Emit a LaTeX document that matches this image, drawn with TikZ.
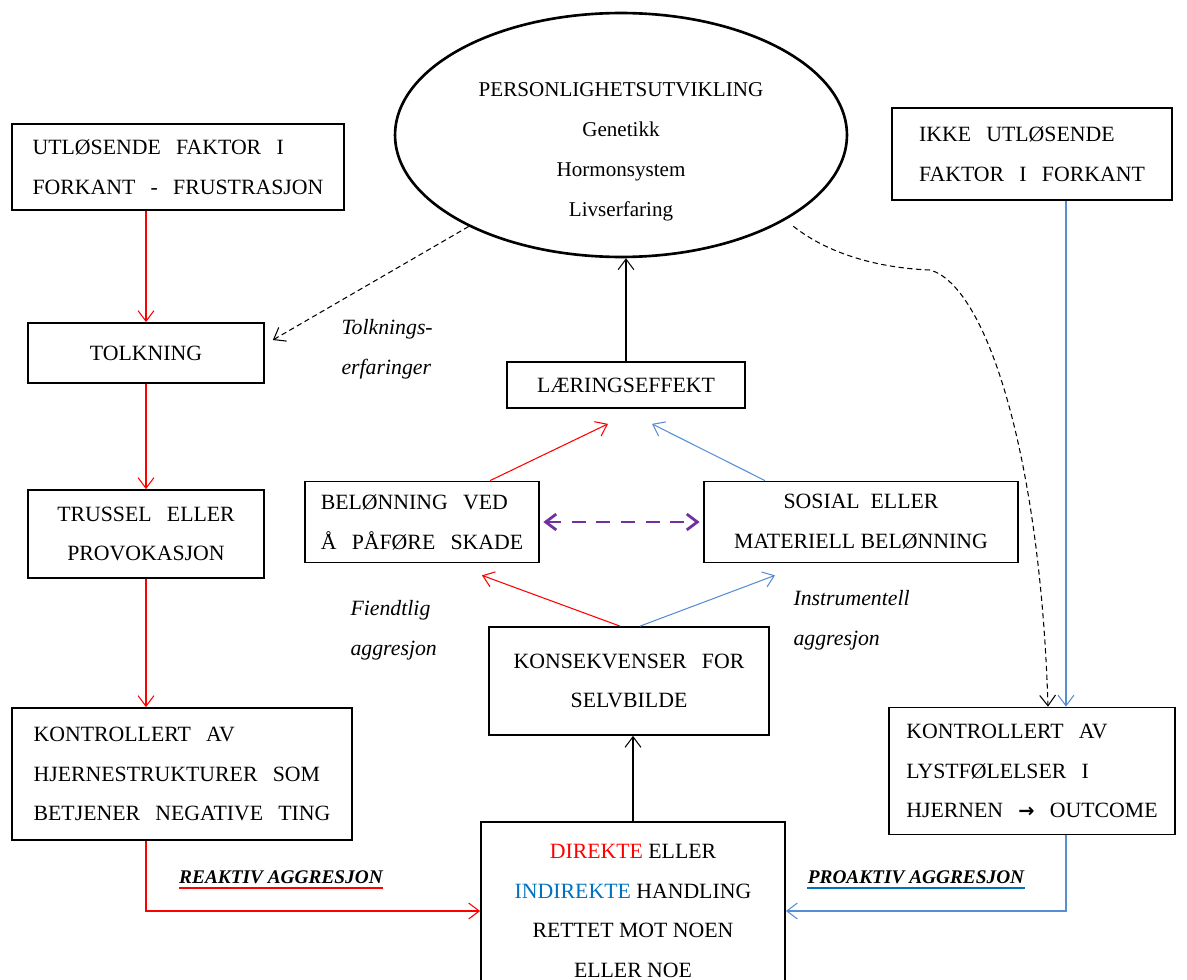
\documentclass[tikz,border=0pt]{standalone}
\usepackage{fontspec}
\setmainfont{Liberation Serif}
\newfontfamily\arrowfont{DejaVu Sans}
\usetikzlibrary{
  arrows.meta,
  shapes.geometric,
}

\definecolor{arrowblue}{RGB}{85,142,213}
\definecolor{textblue}{RGB}{0,112,192}
\definecolor{dashpurple}{RGB}{112,48,160}

\begin{document}
\begin{tikzpicture}[
  x=0.02cm, y=-0.02cm,
  line width=0.6pt,
  >={Straight Barb[length=6pt,width=9pt]},
  font=\fontsize{12}{22.7}\selectfont,
  box/.style={
     draw,
     line width=1pt,
     inner sep=3pt,
     font={\fontsize{12.4}{22.7}\selectfont\spaceskip=0.7em\relax},
  },
  normalgap/.style={
     font=\fontsize{12.4}{22.7}\selectfont,
  },
  oval/.style={
     ellipse,
     draw,
     line width=1.5pt,
  },
  note/.style={
     align=left,
     inner sep=0pt,
     font=\fontsize{12.4}{22.7}\selectfont\itshape,
  },
  tag/.style={
     inner sep=0pt,
     font=\fontsize{11}{13}\selectfont\bfseries\itshape,
  },
  hint/.style={
     dash pattern=on 3pt off 2pt,
  },
]
   \useasboundingbox (0,0) rectangle (1187,980);

   % top
   \node[oval, minimum width=9.04cm, minimum height=4.88cm] (Pers) at (621,135) {};
   \node[align=center] (PersText) at (621,152)
      {PERSONLIGHETSUTVIKLING\\Genetikk\\Hormonsystem\\Livserfaring};

   % left column
   \node[box, minimum width=6.64cm, minimum height=1.72cm, align=left] (Trigger) at (178,167)
      {UTLØSENDE FAKTOR I\\FORKANT - FRUSTRASJON};
   \node[box, minimum width=4.72cm, minimum height=1.2cm] (Tolk) at (146,353) {TOLKNING};
   \node[box, minimum width=4.72cm, minimum height=1.76cm, align=center] (Trussel) at (146,534)
      {TRUSSEL ELLER\\PROVOKASJON};
   \node[box, minimum width=6.8cm, minimum height=2.64cm, align=left] (KontrL) at (182,774)
      {KONTROLLERT AV\\HJERNESTRUKTURER SOM\\BETJENER NEGATIVE TING};

   % right column
   \node[box, minimum width=5.6cm, minimum height=1.84cm, align=left] (Ikke) at (1032,154)
      {IKKE UTLØSENDE\\FAKTOR I FORKANT};
   \node[box, minimum width=5.72cm, minimum height=2.54cm, align=left] (KontrR) at (1032,771)
      {KONTROLLERT AV\\LYSTFØLELSER I\\HJERNEN {\arrowfont\bfseries\fontsize{11}{13}\selectfont →} OUTCOME};

   % middle
   \node[box, minimum width=4.76cm, minimum height=0.92cm] (Laering) at (626,385) {LÆRINGSEFFEKT};
   \node[box, minimum width=4.68cm, minimum height=1.62cm, align=left] (Belon) at (422,522)
      {BELØNNING VED\\Å PÅFØRE SKADE};
   \node[box, normalgap, minimum width=6.28cm, minimum height=1.62cm, align=center] (Sosial) at (861,522)
      {SOSIAL \ ELLER\\MATERIELL BELØNNING};
   \node[box, minimum width=5.6cm, minimum height=2.16cm, align=center] (Konsek) at (629,681)
      {KONSEKVENSER FOR\\SELVBILDE};
   \node[box, normalgap, minimum width=6.08cm, minimum height=3.56cm, align=center] (Handling) at (633,911)
      {{\color{red}DIREKTE} ELLER\\{\color{textblue}INDIREKTE} HANDLING\\RETTET MOT NOEN\\ELLER NOE};

   % labels
   \node[note, anchor=west] (TolkNote) at (341,349) {Tolknings-\\erfaringer};
   \node[note, anchor=west] (HostileNote) at (350,630) {Fiendtlig\\aggresjon};
   \node[note, anchor=west] (InstrNote) at (793,620) {Instrumentell\\aggresjon};
   \node[tag] (Reaktiv) at (281,877) {REAKTIV AGGRESJON};
   \node[tag] (Proaktiv) at (916,877) {PROAKTIV AGGRESJON};
   \draw[red, line width=1.2pt] ([yshift=-2.5pt]Reaktiv.base west) -- ([yshift=-2.5pt]Reaktiv.base east);
   \draw[textblue, line width=1.2pt] ([yshift=-2.5pt]Proaktiv.base west) -- ([yshift=-2.5pt]Proaktiv.base east);

   % reactive path
   \draw[red, ->] (Trigger.south -| Tolk) -- (Tolk);
   \draw[red, ->] (Tolk) -- (Trussel);
   \draw[red, ->] (Trussel) -- (Trussel |- KontrL.north);
   \draw[red, ->] (KontrL.south -| Trussel) |- (Handling);

   % proactive path
   \draw[arrowblue, ->] ([xshift=0.68cm]Ikke.south) -- ([xshift=0.68cm]KontrR.north);
   \draw[arrowblue, ->] ([xshift=0.68cm]KontrR.south) |- (Handling);

   % consequences
   \draw[->] (Handling.north) -- (Handling.north |- Konsek.south);
   \draw[red, ->] ([xshift=-0.18cm]Konsek.north) -- ([xshift=1.2cm, yshift=-0.24cm]Belon.south);
   \draw[arrowblue, ->] ([xshift=0.22cm]Konsek.north) -- ([xshift=-1.72cm, yshift=-0.24cm]Sosial.south);
   \draw[red, ->] ([xshift=1.36cm]Belon.north) -- ([xshift=-0.36cm, yshift=-0.3cm]Laering.south);
   \draw[arrowblue, ->] ([xshift=-1.92cm]Sosial.north) -- ([xshift=0.52cm, yshift=-0.3cm]Laering.south);
   \draw[->] (Laering.north) -- (Laering.north |- Pers.south);
   \draw[dashpurple, <->, line width=1.6pt, dash pattern=on 8pt off 6pt, shorten <=2pt, shorten >=2pt]
      (Belon) -- (Sosial);

   % feedback from personality
   \coordinate (Bend) at (930,270);
   \draw[hint, ->] (Pers.211) -- ([xshift=0.16cm, yshift=0.26cm]Tolk.east);
   \draw[hint, ->] ([shift={(0.2cm,-0.1cm)}]Pers.332) .. controls (830,255) and (880,268) .. (Bend)
      .. controls (985,285) and (1040,450) .. ([xshift=0.32cm]KontrR.north);
\end{tikzpicture}
\end{document}
